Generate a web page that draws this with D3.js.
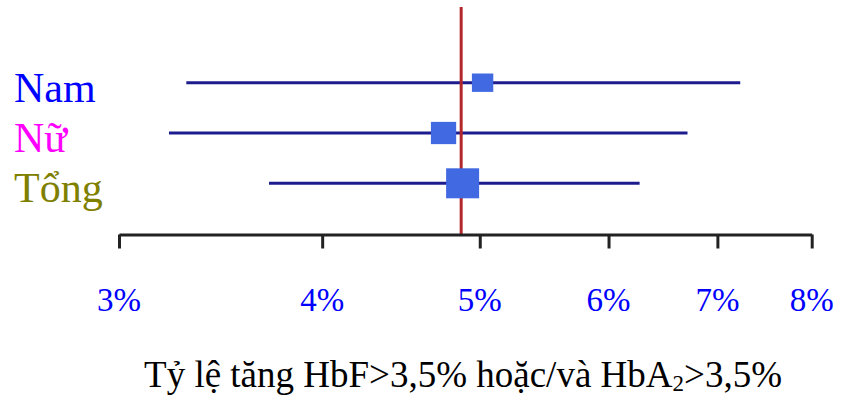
<!DOCTYPE html>
<html>
<head>
<meta charset="utf-8">
<script src="https://cdn.jsdelivr.net/npm/d3@7"></script>
<style>
	body { margin: 0; background: #fff; }
	svg { display: block; font-family: "Liberation Serif", "Times New Roman", serif; }
</style>
</head>
<body>
<svg id="chart" width="854" height="396"></svg>
<script>
// Data
const groups = ['Nam', 'Nữ', 'Tổng'];
const groupColors = ['#0000ff', '#ff00ff', '#808000'];
const estimate = [5.02, 4.75, 4.88];   // %
const lower = [3.30, 3.22, 3.71];
const upper = [7.23, 6.71, 6.27];
const weight = [0.30, 0.36, 0.48];     // relative weight -> square size
const refValue = 4.87;
const ticks = [3, 4, 5, 6, 7, 8];
const title = 'Tỷ lệ tăng HbF>3,5% hoặc/và HbA';

const svg = d3.select('#chart');

// Scales
const x = d3.scaleLog().domain([3, 8]).range([119, 811.7]);
const y = d3.scalePoint().domain(groups).range([82.7, 183.3]);
const sz = d3.scaleLinear().domain([0, 0.48]).range([0, 31]);
const axisY = 234.5;

// Row labels
svg.selectAll('.lbl')
	.data(groups)
	.enter().append('text')
	.attr('class', 'lbl')
	.attr('x', 14)
	.attr('y', d => y(d) + 19)
	.attr('font-size', 42)
	.attr('fill', (d,i) => groupColors[i])
	.text(d => d);

// Confidence interval lines
svg.selectAll('.ci')
	.data(groups)
	.enter().append('line')
	.attr('class', 'ci')
	.attr('x1', (d,i) => x(lower[i]))
	.attr('x2', (d,i) => x(upper[i]))
	.attr('y1', d => y(d))
	.attr('y2', d => y(d))
	.attr('stroke', '#1c1c8f')
	.attr('stroke-width', 3);

// Reference line
svg.append('line')
	.attr('x1', x(refValue)).attr('x2', x(refValue))
	.attr('y1', 7).attr('y2', axisY)
	.attr('stroke', '#b3262a')
	.attr('stroke-width', 3);

// Squares
svg.selectAll('.sq')
	.data(groups)
	.enter().append('rect')
	.attr('class', 'sq')
	.attr('x', (d,i) => x(estimate[i]) - (sz(weight[i]) + 2) / 2)
	.attr('y', (d,i) => y(d) - (sz(weight[i]) - 1) / 2)
	.attr('width', (d,i) => sz(weight[i]) + 2)
	.attr('height', (d,i) => sz(weight[i]) - 1)
	.attr('fill', '#4169e1');

// Axis
const axis = d3.axisBottom(x)
	.tickValues(ticks)
	.tickSize(14)
	.tickSizeOuter(0)
	.tickFormat('');
const gx = svg.append('g')
	.attr('transform', `translate(0,${axisY})`)
	.call(axis);
gx.select('.domain').attr('stroke', '#222').attr('stroke-width', 3);
gx.selectAll('.tick line').attr('stroke', '#222').attr('stroke-width', 3);

// Tick labels
svg.selectAll('.tl')
	.data(ticks)
	.enter().append('text')
	.attr('class', 'tl')
	.attr('x', d => x(d))
	.attr('y', 311)
	.attr('text-anchor', 'middle')
	.attr('font-size', 33)
	.attr('fill', '#0000ff')
	.text(d => d + '%');

// Title
const t = svg.append('text')
	.attr('x', 463)
	.attr('y', 387)
	.attr('text-anchor', 'middle')
	.attr('font-size', 37)
	.attr('fill', '#000');
t.append('tspan').text(title);
t.append('tspan').attr('font-size', 23).attr('dy', 4).text('2');
t.append('tspan').attr('dy', -4).text('>3,5%');
</script>
</body>
</html>
